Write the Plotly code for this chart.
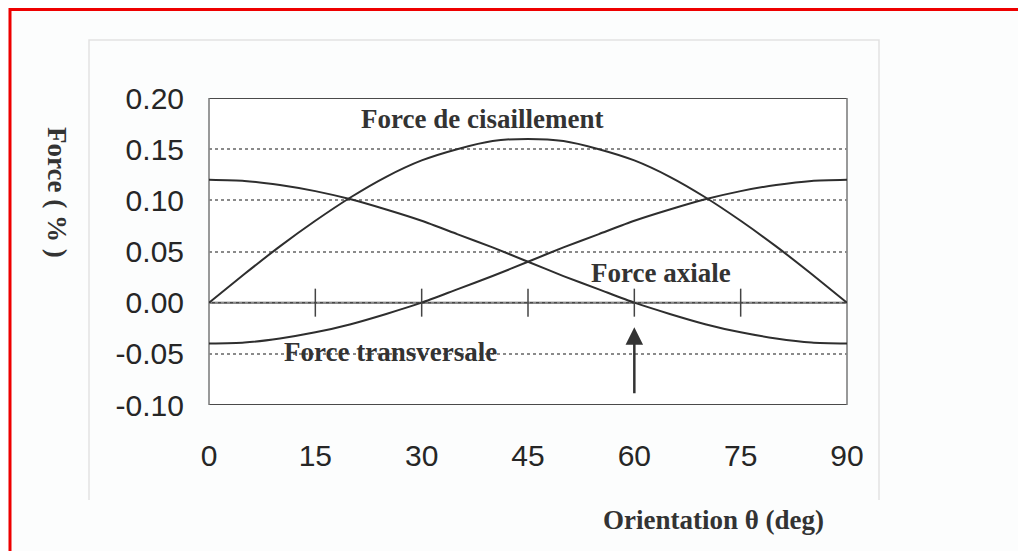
import plotly.graph_objects as go

# ---------------- data ----------------
theta = [0, 5, 10, 15, 20, 25, 30, 35, 40, 45, 50, 55, 60, 65, 70, 75, 80, 85, 90]
force_cisaillement = [0.000, 0.028, 0.055, 0.080, 0.103, 0.123, 0.139, 0.150, 0.158, 0.160,
                      0.158, 0.150, 0.139, 0.123, 0.103, 0.080, 0.055, 0.028, 0.000]
force_axiale = [0.120, 0.119, 0.115, 0.109, 0.101, 0.091, 0.080, 0.067, 0.054, 0.040,
                0.026, 0.013, 0.000, -0.011, -0.021, -0.029, -0.035, -0.039, -0.040]
force_transversale = [-0.040, -0.039, -0.035, -0.029, -0.021, -0.011, 0.000, 0.013, 0.026, 0.040,
                      0.054, 0.067, 0.080, 0.091, 0.101, 0.109, 0.115, 0.119, 0.120]

x_ticks = [0, 15, 30, 45, 60, 75, 90]
x_tick_labels = ["0", "15", "30", "45", "60", "75", "90"]
y_ticks = [-0.10, -0.05, 0.00, 0.05, 0.10, 0.15, 0.20]
y_tick_labels = ["-0.10", "-0.05", "0.00", "0.05", "0.10", "0.15", "0.20"]
zero_axis_ticks = [15, 30, 45, 60, 75]
solid_levels = [-0.10, 0.00, 0.20]
arrow_x = 60
arrow_tip = -0.024
arrow_tail = -0.090

# ---------------- layout constants ----------------
OFF = 8  # page body margin
W, H = 1026 - OFF, 551 - OFF
L, T = 209 - OFF, 98 - OFF
R = W - (847 - OFF)
B = H - (405 - OFF)
PW, PH = W - L - R, H - T - B


def px(xp):
    return (xp - OFF - L) / PW


def py(yp):
    return (H - B - (yp - OFF)) / PH


LINE = "#2e2e2e"
SERIF = "Liberation Serif, Times New Roman, serif"
SANS = "Liberation Sans, Arial, sans-serif"

fig = go.Figure()
for name, vals in [("Force de cisaillement", force_cisaillement),
                   ("Force axiale", force_axiale),
                   ("Force transversale", force_transversale)]:
    fig.add_trace(go.Scatter(x=theta, y=vals, mode="lines", name=name,
                             line=dict(color=LINE, width=2, shape="spline", smoothing=0.6),
                             showlegend=False, hoverinfo="skip"))

# small tick marks on the zero line
fig.add_trace(go.Scatter(x=zero_axis_ticks, y=[0] * len(zero_axis_ticks), mode="markers",
                         marker=dict(symbol="line-ns-open", size=20, color="#444",
                                     line=dict(color="#444", width=1.5)),
                         showlegend=False, hoverinfo="skip"))

shapes = []
for lv in solid_levels:
    shapes.append(dict(type="line", xref="paper", yref="y", x0=0, x1=1, y0=lv, y1=lv,
                       line=dict(color="#4a4a4a", width=2), layer="below"))
# left/right plot borders
for xv in [0, 1]:
    shapes.append(dict(type="line", xref="paper", yref="paper", x0=xv, x1=xv, y0=0, y1=1,
                       line=dict(color="#777", width=1.5), layer="below"))
# light outer frame (left, top, right)
shapes.append(dict(type="path", xref="paper", yref="paper",
                   path=f"M {px(89)},{py(500)} L {px(89)},{py(40)} L {px(879)},{py(40)} L {px(879)},{py(500)}",
                   line=dict(color="#e2e2e2", width=1.5), layer="below"))
# red border
shapes.append(dict(type="rect", xref="paper", yref="paper",
                   x0=px(10), x1=px(1040), y0=py(9.5), y1=py(553),
                   line=dict(color="#ee0000", width=3), layer="below"))


def label(text, xp, yp, size, angle=0):
    return dict(text=text, x=px(xp), y=py(yp), xref="paper", yref="paper",
                xanchor="center", yanchor="middle", showarrow=False, textangle=angle,
                font=dict(family=SERIF, size=size, color="#333"))


annotations = [
    label("<b>Force de cisaillement</b>", 482, 119, 27),
    label("<b>Force axiale</b>", 661, 273, 27),
    label("<b>Force transversale</b>", 390, 352, 27),
    label("<b>Force ( % )</b>", 57, 192, 27, angle=90),
    label("<b>Orientation θ (deg)</b>", 713, 520, 27),
    dict(x=arrow_x, y=arrow_tip, ax=arrow_x, ay=arrow_tail, xref="x", yref="y",
         axref="x", ayref="y", text="", showarrow=True, arrowhead=2, arrowsize=1.4,
         arrowwidth=2.5, arrowcolor="#333"),
]

fig.update_layout(
    width=W, height=H, margin=dict(l=L, r=R, t=T, b=B, autoexpand=False),
    paper_bgcolor="#fcfdfd", plot_bgcolor="white",
    shapes=shapes, annotations=annotations,
    xaxis=dict(range=[0, 90], tickvals=x_ticks, ticktext=x_tick_labels, showgrid=False,
               zeroline=False, showline=False, ticks="", ticklabelstandoff=30,
               tickfont=dict(family=SANS, size=30, color="#262626"), fixedrange=True),
    yaxis=dict(range=[-0.10, 0.20], tickvals=y_ticks, ticktext=y_tick_labels, showgrid=True,
               gridcolor="#8a8a8a", griddash="dot", gridwidth=1.5, zeroline=False,
               showline=False, ticks="", ticklabelstandoff=24,
               tickfont=dict(family=SANS, size=30, color="#262626"), fixedrange=True),
)

fig.write_html("out.html")
